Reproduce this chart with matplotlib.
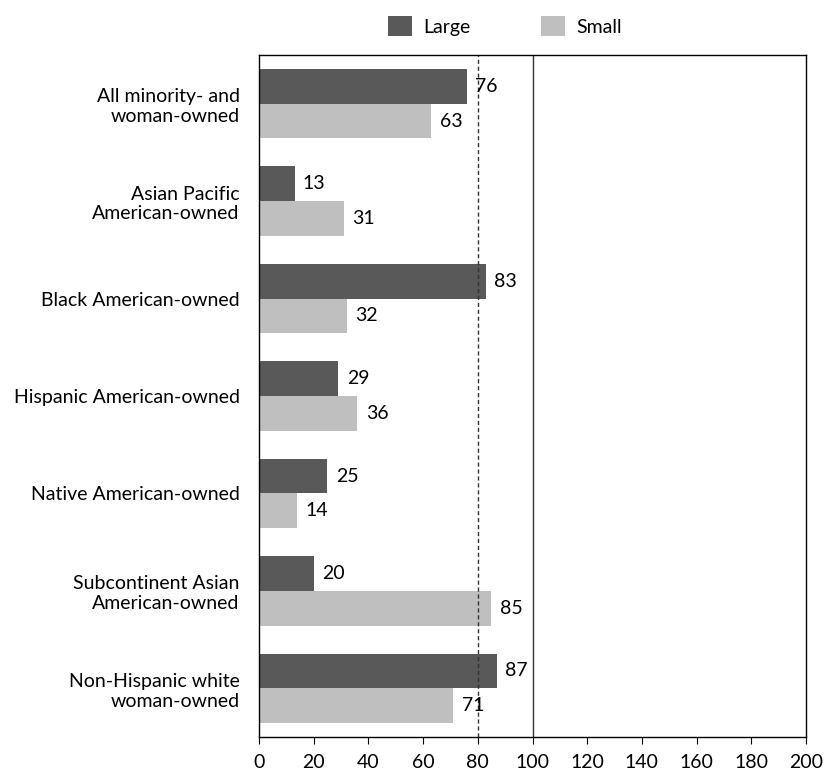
import matplotlib
matplotlib.use("Agg")
import matplotlib.pyplot as plt
import numpy as np

categories = ["All minority- and\nwoman-owned", "Asian Pacific\nAmerican-owned",
              "Black American-owned", "Hispanic American-owned",
              "Native American-owned", "Subcontinent Asian\nAmerican-owned",
              "Non-Hispanic white\nwoman-owned"]
large = [76, 13, 83, 29, 25, 20, 87]
small = [63, 31, 32, 36, 14, 85, 71]
xticks = [0, 20, 40, 60, 80, 100, 120, 140, 160, 180, 200]

plt.rcParams['font.family'] = ['Lato', 'DejaVu Sans']

fig = plt.figure(figsize=(8.24, 7.74), dpi=100)
ax = fig.add_axes([259/824, 1 - 737/774, 547/824, 682/774])

y = np.arange(len(categories))
h = 0.356
ax.barh(y - h/2, large, height=h, color='#595959', label='Large')
ax.barh(y + h/2, small, height=h, color='#bfbfbf', label='Small')

for yi, v in zip(y - h/2, large):
    ax.annotate(str(v), (v, yi), xytext=(6, 0), textcoords='offset points',
                va='center', ha='left', fontsize=14)
for yi, v in zip(y + h/2, small):
    ax.annotate(str(v), (v, yi), xytext=(6, 0), textcoords='offset points',
                va='center', ha='left', fontsize=14)

ax.axvline(80, color='#333333', linestyle='--', linewidth=1, dashes=(3, 2))
ax.axvline(100, color='#333333', linewidth=1)

ax.set_xlim(0, 200)
ax.set_ylim(len(categories) - 0.5, -0.5)
ax.set_xticks(xticks)
ax.set_xticklabels([str(t) for t in xticks], fontsize=14)
ax.set_yticks(y)
ax.set_yticklabels(categories, fontsize=14, ha='right', multialignment='right')
ax.tick_params(axis='y', length=0, pad=14)
ax.tick_params(axis='x', length=5, direction='out', pad=7)
for s in ax.spines.values():
    s.set_color('black')
    s.set_linewidth(1)

fig.legend(loc='center', bbox_to_anchor=(505/824, 1 - 26/774), ncol=2,
           frameon=False, fontsize=14, handlelength=1.25, handleheight=1.25,
           handletextpad=0.6, columnspacing=3.6)

fig.savefig('out.png', dpi=100)
